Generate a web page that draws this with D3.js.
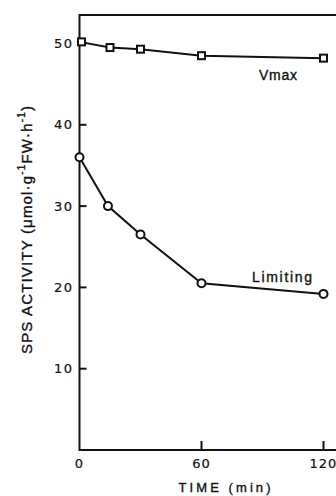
<!DOCTYPE html>
<html>
<head>
<meta charset="utf-8">
<script src="https://cdn.jsdelivr.net/npm/d3@7"></script>
<style>
  body { margin: 0; background: #fff; }
  svg { display: block; }
  text { font-family: "Liberation Sans", Arial, sans-serif; fill: #111; stroke: #111; stroke-width: 0.35; }
  text.num { font-family: "DejaVu Sans", sans-serif; stroke-width: 0.2; }
</style>
</head>
<body>
<div id="chart"></div>
<script>
// data
var vmaxTime = [0, 15, 30, 60, 120];
var vmaxValue = [50.2, 49.5, 49.3, 48.5, 48.2];
var limTime = [0, 14, 30, 60, 120];
var limValue = [36.0, 30.0, 26.5, 20.5, 19.2];
var yTicks = [10, 20, 30, 40, 50];
var xTicks = [0, 60, 120];

var width = 336, height = 496;
var margin = {left: 79.5, top: 15, bottom: 46};

var svg = d3.select('#chart')
    .append('svg')
    .attr('width', width)
    .attr('height', height);

var x = d3.scaleLinear()
    .domain([0, 120])
    .range([margin.left, 323.5]);

var y = d3.scaleLinear()
    .domain([0, 50])
    .range([height - margin.bottom, 43.5]);

var yTop = margin.top;
var yBottom = y(0);

// frame (right side runs off the page)
svg.append('path')
    .attr('d', 'M' + (width + 5) + ',' + yTop + 'H' + x(0) + 'V' + yBottom + 'H' + (width + 5))
    .attr('fill', 'none')
    .attr('stroke', '#111')
    .attr('stroke-width', 2);

// y ticks, inward
svg.selectAll('line.ytick')
    .data(yTicks)
    .enter()
    .append('line')
    .attr('class', 'ytick')
    .attr('x1', x(0))
    .attr('x2', x(0) + 7)
    .attr('y1', function(d) { return y(d); })
    .attr('y2', function(d) { return y(d); })
    .attr('stroke', '#111')
    .attr('stroke-width', 2);

svg.selectAll('text.ylab')
    .data(yTicks)
    .enter()
    .append('text')
    .attr('class', 'ylab num')
    .attr('x', 73.5)
    .attr('y', function(d) { return y(d); })
    .attr('dy', '0.36em')
    .attr('text-anchor', 'end')
    .attr('font-size', 13)
    .attr('letter-spacing', 1.5)
    .text(function(d) { return d; });

// x ticks, inward (none at 0)
svg.selectAll('line.xtick')
    .data(xTicks.filter(function(d) { return d > 0; }))
    .enter()
    .append('line')
    .attr('class', 'xtick')
    .attr('x1', function(d) { return x(d); })
    .attr('x2', function(d) { return x(d); })
    .attr('y1', yBottom)
    .attr('y2', yBottom - 9)
    .attr('stroke', '#111')
    .attr('stroke-width', 2);

svg.selectAll('text.xlab')
    .data(xTicks)
    .enter()
    .append('text')
    .attr('class', 'xlab num')
    .attr('x', function(d) { return x(d); })
    .attr('y', 468)
    .attr('text-anchor', 'middle')
    .attr('font-size', 13)
    .attr('letter-spacing', 1)
    .text(function(d) { return d; });

svg.append('text')
    .attr('x', 224.5)
    .attr('y', 492)
    .attr('text-anchor', 'middle')
    .attr('font-size', 13)
    .attr('textLength', 92)
    .text('TIME (min)');

// y title with superscripts
var yt = svg.append('text')
    .attr('transform', 'translate(32,230) rotate(-90)')
    .attr('text-anchor', 'middle')
    .attr('font-size', 15)
    .attr('textLength', 248);
yt.append('tspan').text('SPS ACTIVITY (\u03bcmol\u00b7g');
yt.append('tspan').attr('dy', -7).attr('font-size', 10).text('-1');
yt.append('tspan').attr('dy', 7).text('FW\u00b7h');
yt.append('tspan').attr('dy', -7).attr('font-size', 10).text('-1');
yt.append('tspan').attr('dy', 7).text(')');

var vmax = vmaxTime.map(function(t, i) { return {t: t, v: vmaxValue[i]}; });
var lim = limTime.map(function(t, i) { return {t: t, v: limValue[i]}; });

var line = d3.line()
    .x(function(d) { return x(d.t); })
    .y(function(d) { return y(d.v); });

svg.append('path')
    .attr('d', line(vmax))
    .attr('fill', 'none')
    .attr('stroke', '#111')
    .attr('stroke-width', 2);

svg.append('path')
    .attr('d', line(lim))
    .attr('fill', 'none')
    .attr('stroke', '#111')
    .attr('stroke-width', 2);

// squares for Vmax
svg.selectAll('rect.vmax')
    .data(vmax)
    .enter()
    .append('rect')
    .attr('class', 'vmax')
    .attr('x', function(d) { return x(d.t) - 3.5 + (d.t === 0 ? 2 : 0); })
    .attr('y', function(d) { return y(d.v) - 3.5; })
    .attr('width', 7)
    .attr('height', 7)
    .attr('fill', '#fff')
    .attr('stroke', '#111')
    .attr('stroke-width', 2);

// circles for Limiting
svg.selectAll('circle.lim')
    .data(lim)
    .enter()
    .append('circle')
    .attr('class', 'lim')
    .attr('cx', function(d) { return x(d.t); })
    .attr('cy', function(d) { return y(d.v); })
    .attr('r', 4)
    .attr('fill', '#fff')
    .attr('stroke', '#111')
    .attr('stroke-width', 2);

svg.append('text')
    .attr('x', 259)
    .attr('y', 80)
    .attr('font-size', 14)
    .attr('textLength', 38)
    .text('Vmax');

svg.append('text')
    .attr('x', 252)
    .attr('y', 282)
    .attr('font-size', 14)
    .attr('textLength', 60)
    .text('Limiting');
</script>
</body>
</html>
